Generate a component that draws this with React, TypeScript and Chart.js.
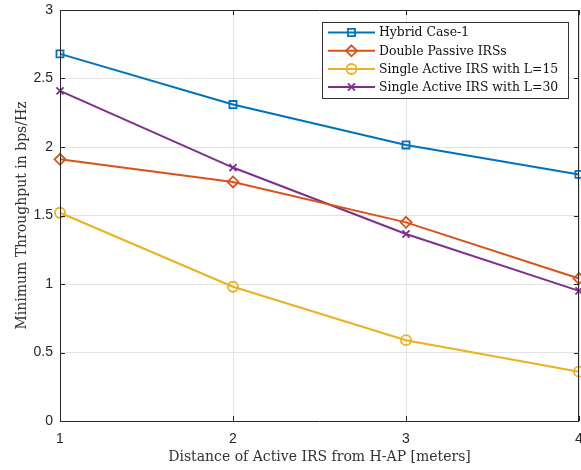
import React, { useEffect, useRef } from "react";
import { Chart, registerables } from "chart.js";

Chart.register(...registerables);

const distances = [1, 2, 3, 4];
const hybridCase1 = [2.68, 2.31, 2.015, 1.8];
const doublePassive = [1.91, 1.745, 1.45, 1.04];
const singleActiveL15 = [1.52, 0.98, 0.59, 0.36];
const singleActiveL30 = [2.41, 1.85, 1.365, 0.95];

const seriesNames = [
  "Hybrid Case-1",
  "Double Passive IRSs",
  "Single Active IRS with L=15",
  "Single Active IRS with L=30",
];
const seriesColors = ["#0072BD", "#D95319", "#EDB120", "#7E2F8E"];
const seriesMarkers = ["rect", "rectRot", "circle", "crossRot"];
const seriesRadius = [5, 5.5, 5, 5];

const AXIS = "#262626";
const SERIF = "'DejaVu Serif', 'Liberation Serif', serif";
const SANS = "'Liberation Sans', Arial, sans-serif";

function drawMarker(ctx: CanvasRenderingContext2D, m: string, cx: number, y: number, r: number) {
  ctx.beginPath();
  if (m === "rect") {
    const s = r * Math.SQRT1_2;
    ctx.rect(cx - s, y - s, 2 * s, 2 * s);
  } else if (m === "rectRot") {
    ctx.moveTo(cx, y - r);
    ctx.lineTo(cx + r, y);
    ctx.lineTo(cx, y + r);
    ctx.lineTo(cx - r, y);
    ctx.closePath();
  } else if (m === "circle") {
    ctx.arc(cx, y, r, 0, Math.PI * 2);
  } else {
    const s = r * Math.SQRT1_2;
    ctx.moveTo(cx - s, y - s);
    ctx.lineTo(cx + s, y + s);
    ctx.moveTo(cx + s, y - s);
    ctx.lineTo(cx - s, y + s);
  }
  ctx.stroke();
}

const boxPlugin = {
  id: "boxAndLegend",
  afterDraw(chart: any) {
    const { ctx, chartArea } = chart;
    const { left, right, top, bottom } = chartArea;
    const xs = chart.scales.x;
    const ys = chart.scales.y;
    ctx.save();
    ctx.strokeStyle = AXIS;
    ctx.lineWidth = 1;
    ctx.beginPath();
    ctx.rect(Math.round(left) + 0.5, Math.round(top) + 0.5, Math.round(right - left) - 1, Math.round(bottom - top));
    ctx.stroke();
    // inward ticks
    const tl = 5;
    ctx.beginPath();
    xs.ticks.forEach((t: any) => {
      const px = Math.round(xs.getPixelForValue(t.value)) + 0.5;
      ctx.moveTo(px, bottom);
      ctx.lineTo(px, bottom - tl);
      ctx.moveTo(px, top);
      ctx.lineTo(px, top + tl);
    });
    ys.ticks.forEach((t: any) => {
      const py = Math.round(ys.getPixelForValue(t.value)) + 0.5;
      ctx.moveTo(left, py);
      ctx.lineTo(left + tl, py);
      ctx.moveTo(right, py);
      ctx.lineTo(right - tl, py);
    });
    ctx.stroke();

    // legend
    const lx = 322, ly = 22, lw = 246, lh = 76;
    ctx.fillStyle = "#ffffff";
    ctx.fillRect(lx, ly, lw, lh);
    ctx.strokeStyle = "#333333";
    ctx.lineWidth = 1;
    ctx.strokeRect(lx + 0.5, ly + 0.5, lw, lh);
    const rowY = [32.5, 50.8, 69, 87];
    const dsets = chart.data.datasets;
    dsets.forEach((ds: any, i: number) => {
      const y = rowY[i];
      ctx.strokeStyle = ds.borderColor;
      ctx.lineWidth = 2;
      ctx.beginPath();
      ctx.moveTo(328, y);
      ctx.lineTo(375, y);
      ctx.stroke();
      ctx.lineWidth = 1.8;
      drawMarker(ctx, seriesMarkers[i], 351.5, y, seriesRadius[i]);
      ctx.fillStyle = "#111111";
      ctx.font = `12.4px ${SERIF}`;
      ctx.textBaseline = "middle";
      ctx.textAlign = "left";
      ctx.fillText(ds.label, 379, y + 0.5);
    });
    ctx.restore();
  },
};

export default function App() {
  const ref = useRef<HTMLCanvasElement | null>(null);
  useEffect(() => {
    if (!ref.current) return;
    const series = [hybridCase1, doublePassive, singleActiveL15, singleActiveL30];
    const chart = new Chart(ref.current, {
      type: "line",
      data: {
        datasets: series.map((vals, i) => ({
          label: seriesNames[i],
          data: distances.map((d, j) => ({ x: d, y: vals[j] })),
          borderColor: seriesColors[i],
          backgroundColor: "transparent",
          borderWidth: 2,
          pointStyle: seriesMarkers[i] as any,
          pointRadius: seriesRadius[i],
          pointBorderWidth: 1.8,
          pointBorderColor: seriesColors[i],
          pointBackgroundColor: "transparent",
          tension: 0,
          clip: false as any,
        })),
      },
      options: {
        animation: false,
        responsive: false,
        layout: { autoPadding: false, padding: { top: 10, right: 2, left: 0, bottom: 0 } },
        plugins: { legend: { display: false }, tooltip: { enabled: false } },
        scales: {
          x: {
            type: "linear",
            min: 1,
            max: 4,
            afterFit(scale: any) {
              scale.height = 49;
              scale.paddingLeft = 0;
              scale.paddingRight = 0;
            },
            ticks: {
              stepSize: 1,
              color: AXIS,
              padding: 10,
              font: { family: SANS, size: 14 },
              maxRotation: 0,
            },
            grid: { color: "#e3e3e3", drawTicks: false },
            border: { display: false },
            title: {
              display: true,
              text: "Distance of Active IRS from H-AP [meters]",
              color: "#333333",
              font: { family: SERIF, size: 14 },
              padding: { top: 0, bottom: 4.6 },
            },
          },
          y: {
            min: 0,
            max: 3,
            afterFit(scale: any) {
              scale.width = 60;
              scale.paddingTop = 0;
              scale.paddingBottom = 0;
            },
            ticks: {
              stepSize: 0.5,
              color: AXIS,
              padding: 7,
              font: { family: SANS, size: 14 },
              callback: (v: any) => String(Number(v)),
            },
            grid: { color: "#e3e3e3", drawTicks: false },
            border: { display: false },
            title: {
              display: true,
              text: "Minimum Throughput in bps/Hz",
              color: "#333333",
              font: { family: SERIF, size: 14 },
              padding: { top: 14, bottom: 0 },
            },
          },
        },
      },
      plugins: [boxPlugin],
    });
    return () => chart.destroy();
  }, []);
  return (
    <div style={{ position: "fixed", left: 0, top: 0, width: 581, height: 470, background: "#fff" }}>
      <canvas ref={ref} width={581} height={470} style={{ width: 581, height: 470 }} />
    </div>
  );
}
